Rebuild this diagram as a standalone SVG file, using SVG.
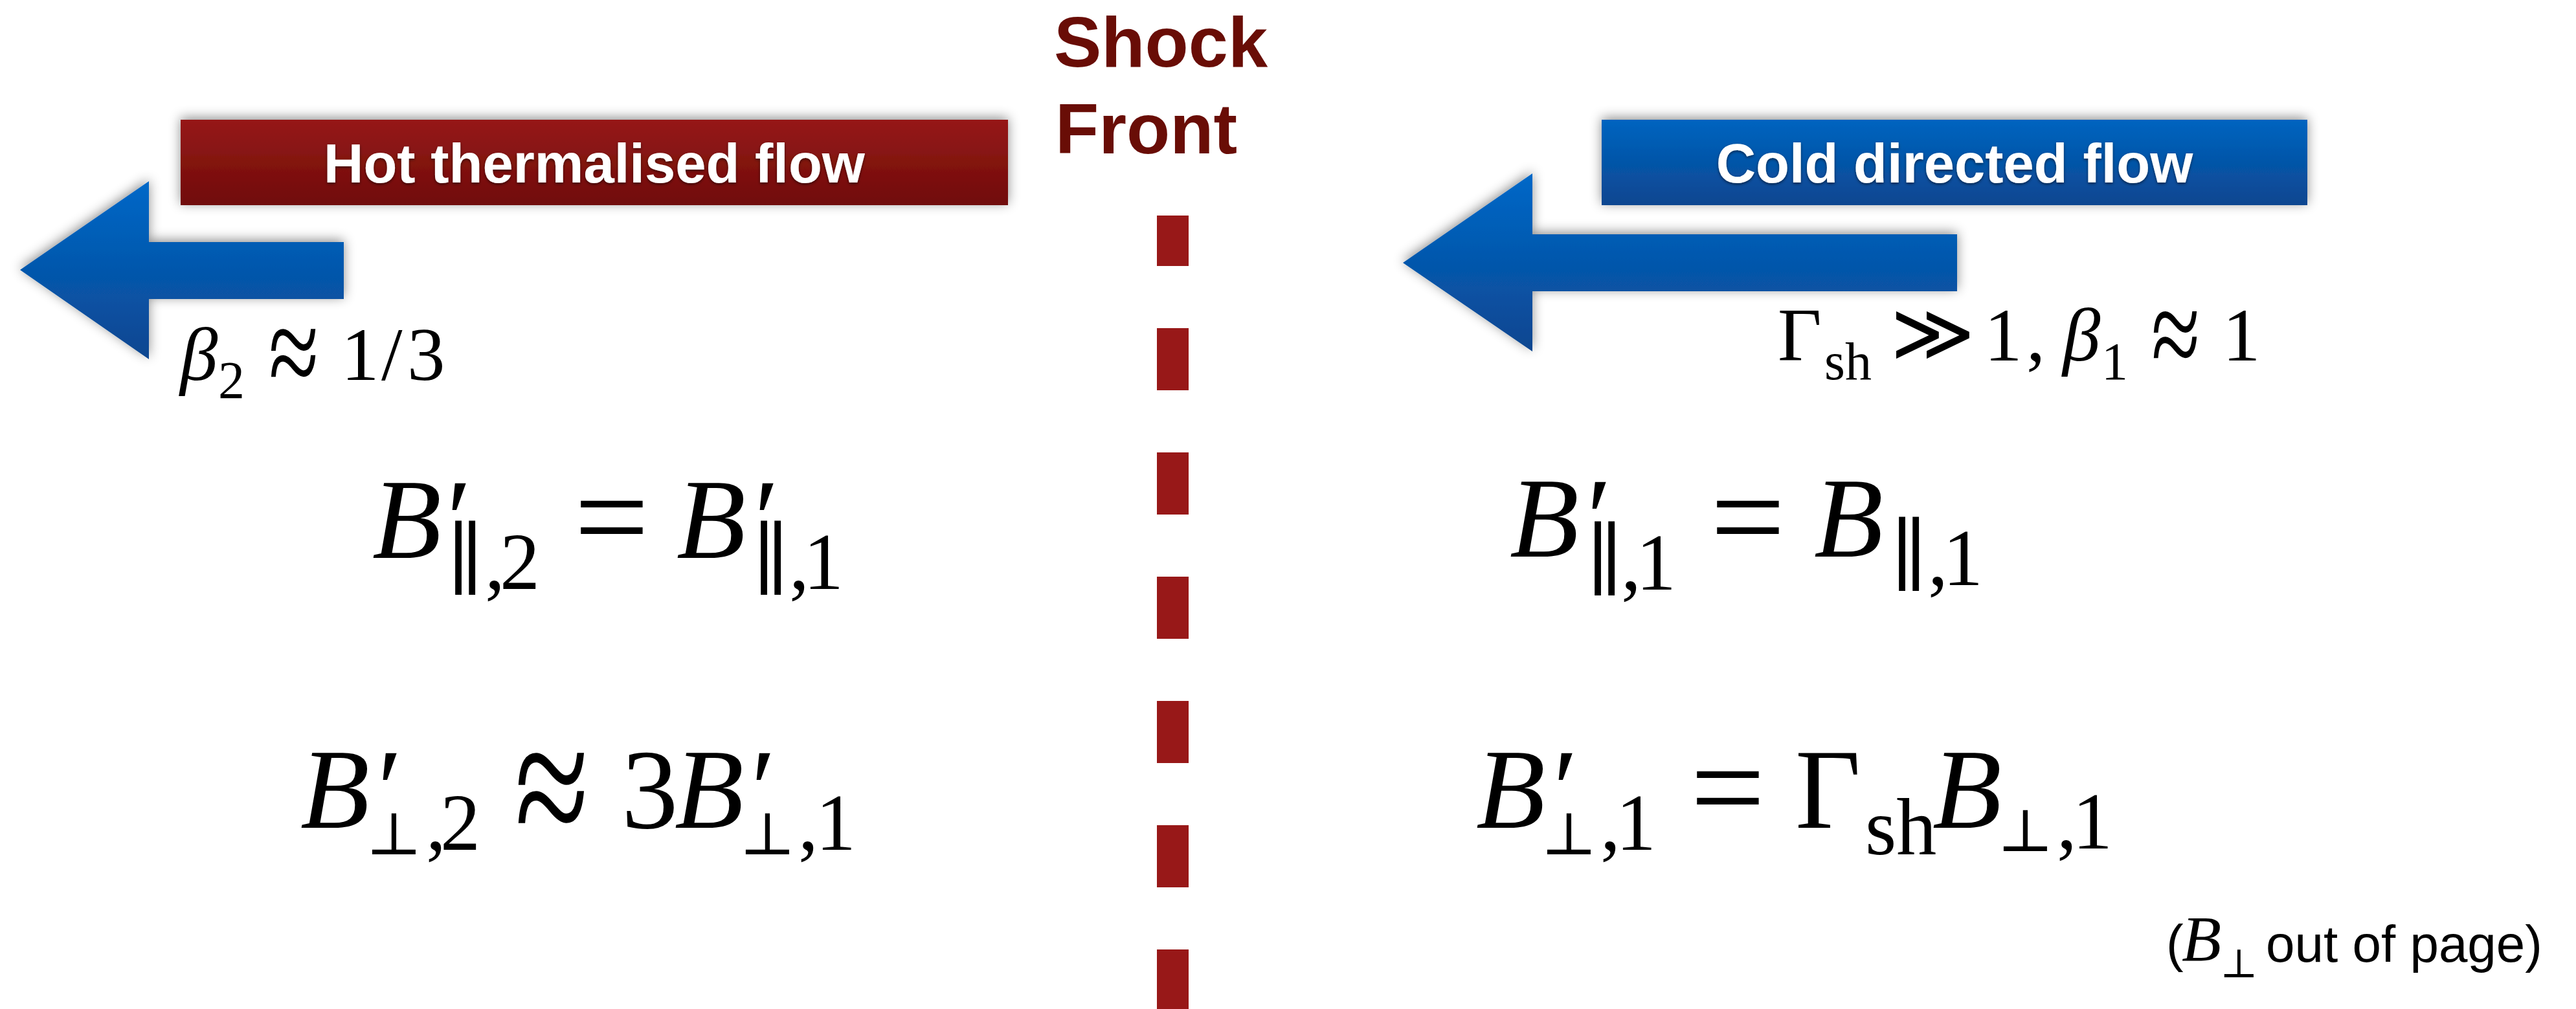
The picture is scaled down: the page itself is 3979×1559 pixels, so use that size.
<svg xmlns="http://www.w3.org/2000/svg" width="3979" height="1559" viewBox="0 0 3979 1559">
<defs>
<linearGradient id="gRed" x1="0" y1="0" x2="0" y2="1"><stop offset="0" stop-color="#961919"/><stop offset="1" stop-color="#700c07"/></linearGradient>
<linearGradient id="gBlue" x1="0" y1="0" x2="0" y2="1"><stop offset="0" stop-color="#0064c0"/><stop offset="1" stop-color="#0b4690"/></linearGradient>
<linearGradient id="gArrow" x1="0" y1="0" x2="0" y2="1"><stop offset="0" stop-color="#0068c8"/><stop offset="1" stop-color="#0b4690"/></linearGradient>
<filter id="sh" x="-10%" y="-30%" width="120%" height="160%"><feDropShadow dx="0" dy="-3" stdDeviation="9" flood-color="#000" flood-opacity="0.45"/></filter>
<filter id="tsh" x="-5%" y="-20%" width="110%" height="140%"><feDropShadow dx="0" dy="2" stdDeviation="2" flood-color="#000" flood-opacity="0.55"/></filter>
<style>
.lbl{font-family:"Liberation Sans",Arial,sans-serif;font-weight:bold;font-size:85px;fill:#fff;text-anchor:middle}
.shock{font-family:"Liberation Sans",Arial,sans-serif;font-weight:bold;font-size:110px;fill:#690d06}
.m{font-family:"Liberation Serif","Times New Roman",serif;font-size:175px;fill:#000}
.s{font-size:124px}
.t{font-family:"Liberation Serif","Times New Roman",serif;font-size:117px;fill:#000}
.ts{font-size:82px}
.i{font-style:italic}
.sym{font-family:"DejaVu Serif","DejaVu Sans",serif;font-style:normal}
.eq{font-size:205px}
.note{font-family:"Liberation Sans",Arial,sans-serif;font-size:80px;fill:#000}
</style>
</defs>
<rect width="3979" height="1559" fill="#fff"/>

<g id="connectors">
<line id="shock-line" x1="1811.5" y1="1563" x2="1811.5" y2="333" stroke="#981818" stroke-width="49" stroke-dasharray="96 96"/>
</g>

<g id="hot-flow-label">
<rect x="279" y="185" width="1278" height="132" fill="url(#gRed)" filter="url(#sh)"/>
<text class="lbl" x="918" y="282" filter="url(#tsh)">Hot thermalised flow</text>
</g>

<g id="cold-flow-label">
<rect x="2474" y="185" width="1090" height="132" fill="url(#gBlue)" filter="url(#sh)"/>
<text class="lbl" x="3019" y="282" filter="url(#tsh)">Cold directed flow</text>
</g>

<g id="left-arrow">
<polygon points="31,417 230,280 230,374 531,374 531,462 230,462 230,555" fill="url(#gArrow)" filter="url(#sh)"/>
</g>

<g id="right-arrow">
<polygon points="2167,406 2367,268 2367,362 3023,362 3023,450 2367,450 2367,543" fill="url(#gArrow)" filter="url(#sh)"/>
</g>

<g id="shock-front">
<text class="shock" x="1628" y="103">Shock</text>
<text class="shock" x="1630" y="237">Front</text>
</g>

<g id="beta2">
<text class="t"><tspan class="i" x="278" y="587">β</tspan><tspan class="ts" x="337" y="615">2</tspan><tspan x="527" y="587">1</tspan><tspan x="589" y="587">/</tspan><tspan x="629" y="587">3</tspan></text>
<text class="t" style="font-size:141px" transform="translate(415,557.5) scale(1,1.43)" y="37.8">≈</text>
</g>

<g id="gamma-sh">
<text class="t"><tspan x="2746" y="557">Γ</tspan><tspan class="ts" x="2818" y="586">sh</tspan><tspan class="sym" x="2920" y="557" style="font-size:125px">≫</tspan><tspan x="3065" y="557">1</tspan><tspan x="3130" y="557">,</tspan><tspan class="i" x="3186" y="557">β</tspan><tspan class="ts" x="3246" y="586">1</tspan><tspan x="3433" y="557">1</tspan></text>
<text class="t" style="font-size:137px" transform="translate(3323,530) scale(1,1.43)" y="36.7">≈</text>
</g>

<g id="eq-par-downstream">
<text class="m"><tspan class="i" x="575" y="862">B</tspan><tspan x="690" y="862">′</tspan><tspan class="s sym" x="690" y="907">∥</tspan><tspan class="s" x="749" y="910">,</tspan><tspan class="s" x="772" y="910">2</tspan><tspan class="i" x="1045" y="862">B</tspan><tspan x="1165" y="862">′</tspan><tspan class="s sym" x="1162" y="907">∥</tspan><tspan class="s" x="1219" y="910">,</tspan><tspan class="s" x="1241" y="910">1</tspan></text>
<text class="m eq" x="887" y="868">=</text>
</g>

<g id="eq-perp-downstream">
<text class="m"><tspan class="i" x="464" y="1279">B</tspan><tspan x="583" y="1279">′</tspan><tspan class="sym" x="565" y="1320" style="font-size:92px">⊥</tspan><tspan class="s" x="658" y="1313">,</tspan><tspan class="s" x="680" y="1313">2</tspan><tspan x="960" y="1279">3</tspan><tspan class="i" x="1042" y="1279">B</tspan><tspan x="1160" y="1279">′</tspan><tspan class="sym" x="1142" y="1320" style="font-size:92px">⊥</tspan><tspan class="s" x="1233" y="1313">,</tspan><tspan class="s" x="1260" y="1313">1</tspan></text>
<text class="m" style="font-size:209px" transform="translate(795,1236) scale(1,1.41)" y="56">≈</text>
</g>

<g id="eq-par-upstream">
<text class="m"><tspan class="i" x="2332" y="860">B</tspan><tspan x="2451" y="860">′</tspan><tspan class="s sym" x="2450" y="908">∥</tspan><tspan class="s" x="2504" y="911">,</tspan><tspan class="s" x="2527" y="911">1</tspan><tspan class="i" x="2802" y="860">B</tspan><tspan class="s sym" x="2920" y="901">∥</tspan><tspan class="s" x="2978" y="904">,</tspan><tspan class="s" x="3001" y="904">1</tspan></text>
<text class="m eq" x="2642" y="868">=</text>
</g>

<g id="eq-perp-upstream">
<text class="m"><tspan class="i" x="2280" y="1279">B</tspan><tspan x="2399" y="1279">′</tspan><tspan class="sym" x="2380" y="1320" style="font-size:92px">⊥</tspan><tspan class="s" x="2472" y="1313">,</tspan><tspan class="s" x="2496" y="1313">1</tspan><tspan x="2773" y="1279">Γ</tspan><tspan class="s" x="2881" y="1320">sh</tspan><tspan class="i" x="2985" y="1279">B</tspan><tspan class="sym" x="3085" y="1315" style="font-size:92px">⊥</tspan><tspan class="s" x="3177" y="1311">,</tspan><tspan class="s" x="3201" y="1311">1</tspan></text>
<text class="m eq" x="2611" y="1286">=</text>
</g>

<g id="note">
<text class="note"><tspan x="3346" y="1485">(</tspan><tspan class="i" x="3370" y="1484" style="font-family:'Liberation Serif',serif;font-size:100px">B</tspan><tspan class="sym" x="3429" y="1510" style="font-size:62px">⊥</tspan><tspan x="3500" y="1486">out of page)</tspan></text>
</g>
</svg>
